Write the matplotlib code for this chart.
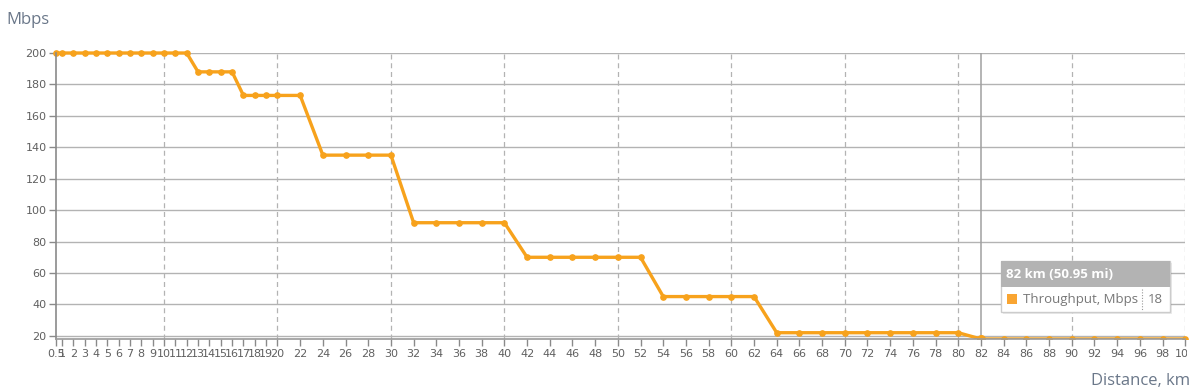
import matplotlib.pyplot as plt
from matplotlib.patches import Rectangle
from matplotlib.lines import Line2D
from matplotlib.transforms import Bbox

# ------------------------------------------------------------
# Data
# ------------------------------------------------------------

distance_km = [0.5] + list(range(1, 21)) + list(range(22, 101, 2))

throughput_mbps = (
    [200] * 13      # 0.5 .. 12
    + [188] * 4     # 13 .. 16
    + [173] * 5     # 17 .. 20, 22
    + [135] * 4     # 24 .. 30
    + [92] * 5      # 32 .. 40
    + [70] * 6      # 42 .. 52
    + [45] * 5      # 54 .. 62
    + [22] * 9      # 64 .. 80
    + [18] * 10     # 82 .. 100
)

y_ticks = list(range(20, 201, 20))
x_grid = list(range(10, 101, 10))

hover_km = 82
hover_value = 18
hover_header = "82 km (50.95 mi)"
series_name = "Throughput, Mbps"

# ------------------------------------------------------------
# Style
# ------------------------------------------------------------

ORANGE = "#f7a21c"
GRID = "#b3b3b3"
LABEL = "#606060"
TITLE = "#6a7789"

W, H = 1194, 390

fig = plt.figure(figsize=(W / 100, H / 100), dpi=100)
ax = fig.add_axes([56.2 / W, 1 - 339 / H, (1185.2 - 56.2) / W, (339 - 53) / H])

ax.set_xlim(0.5, 100)
ax.set_ylim(18, 200)

# grid
for y in y_ticks:
    ax.axhline(y, color=GRID, linewidth=1, zorder=1)
for x in x_grid:
    ax.axvline(x, color=GRID, linewidth=0.9, linestyle=(0, (4, 3)), zorder=1)

# crosshair
ax.axvline(hover_km, color="#a0a0a0", linewidth=1.1, zorder=2)

# series is cut only at the x axis line, not at the top
series_clip = Bbox.from_extents(40, H - 339, W, H - 40)

line, = ax.plot(distance_km, throughput_mbps, color=ORANGE, linewidth=2.4,
                marker="o", markersize=3.8, zorder=3)
hover, = ax.plot([hover_km], [hover_value], color=ORANGE, marker="o",
                 markersize=5.5, zorder=4)
for artist in (line, hover):
    artist.set_clip_box(series_clip)

# axes
for side in ("top", "right"):
    ax.spines[side].set_visible(False)
for side in ("left", "bottom"):
    ax.spines[side].set_linewidth(1.2)
    ax.spines[side].set_zorder(6)
ax.spines["left"].set_color("#8a8a8a")
ax.spines["bottom"].set_color("#9a9a9a")

ax.set_yticks(y_ticks)
ax.set_yticklabels([str(v) for v in y_ticks])
ax.set_xticks(distance_km)
ax.set_xticklabels([str(v) for v in distance_km])

ax.tick_params(axis="both", colors="#8a8a8a", labelcolor=LABEL,
               labelsize=8, length=5, width=1)
ax.tick_params(axis="x", pad=2)
ax.tick_params(axis="y", pad=2)

# the last label is cut by the chart container
label_clip = Bbox.from_extents(0, 0, 1187, H)
for lbl in ax.get_xticklabels():
    lbl.set_clip_box(label_clip)
    lbl.set_clip_on(True)

# titles
fig.text(6 / W, 1 - 20 / H, "Mbps", fontsize=12, color=TITLE,
         family="Open Sans", va="center", ha="left")
fig.text(1190 / W, 1 - 381 / H, "Distance, km", fontsize=12, color=TITLE,
         family="Open Sans", va="center", ha="right")

# ------------------------------------------------------------
# Tooltip
# ------------------------------------------------------------

tx0, tx1 = 1001, 1170
ty0, ty_mid, ty1 = 261, 287, 312


def fx(px):
    return px / W


def fy(py):
    return 1 - py / H


shadow = Rectangle((fx(tx0 + 2), fy(ty1 + 2)), fx(tx1 - tx0), (ty1 - ty0) / H,
                   transform=fig.transFigure, facecolor="#000000", alpha=0.08,
                   edgecolor="none", zorder=9)
body = Rectangle((fx(tx0), fy(ty1)), fx(tx1 - tx0), (ty1 - ty0) / H,
                 transform=fig.transFigure, facecolor="white",
                 edgecolor="#cccccc", linewidth=1, zorder=10)
header = Rectangle((fx(tx0), fy(ty_mid)), fx(tx1 - tx0), (ty_mid - ty0) / H,
                   transform=fig.transFigure, facecolor="#b3b3b3",
                   edgecolor="none", zorder=11)
square = Rectangle((fx(1007), fy(304)), fx(10), 10 / H,
                   transform=fig.transFigure, facecolor="#f9a532",
                   edgecolor="none", zorder=12)
for patch in (shadow, body, header, square):
    fig.patches.append(patch)

fig.add_artist(Line2D([fx(1142), fx(1142)], [fy(ty_mid + 2), fy(ty1 - 1)],
                      transform=fig.transFigure, color="#999999",
                      linewidth=0.8, linestyle=(0, (1, 1.5)), zorder=12))

fig.text(fx(1006), fy(274), hover_header, fontsize=9.5, color="white",
         weight="bold", family="Open Sans", va="center", ha="left", zorder=13)
fig.text(fx(1023), fy(299.5), series_name, fontsize=9.5, color="#777777",
         family="Open Sans", va="center", ha="left", zorder=13)
fig.text(fx(1148), fy(299.5), str(hover_value), fontsize=9.5, color="#777777",
         family="Open Sans", va="center", ha="left", zorder=13)

fig.savefig("out.png", dpi=100)
